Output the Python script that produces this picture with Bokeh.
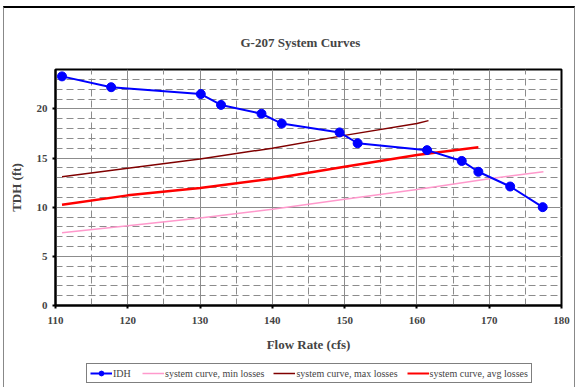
from bokeh.plotting import figure
from bokeh.layouts import column
from bokeh.models import (Range1d, FixedTicker, Legend, LegendItem, Grid)
from bokeh.embed import file_html
from bokeh.resources import INLINE

# ---- data ----
idh_q = [110.9, 117.7, 130.1, 132.9, 138.5, 141.3, 149.3, 151.8, 161.4, 166.2, 168.5, 172.9, 177.4]
idh_h = [23.3, 22.2, 21.5, 20.4, 19.5, 18.5, 17.6, 16.5, 15.8, 14.7, 13.6, 12.1, 10.0]

min_q = [110.9, 120, 130, 140, 150, 160, 170, 177.5]
min_h = [7.4, 8.1, 8.9, 9.8, 10.8, 11.8, 12.9, 13.6]

max_q = [110.9, 120, 130, 140, 150, 160, 161.6]
max_h = [13.1, 13.95, 14.9, 16.0, 17.3, 18.5, 18.8]

avg_q = [110.9, 120, 130, 140, 150, 160, 168.5]
avg_h = [10.25, 11.2, 11.95, 12.9, 14.1, 15.3, 16.1]

x_ticks = [110, 120, 130, 140, 150, 160, 170, 180]
y_ticks = [0, 5, 10, 15, 20]

SERIF = "Liberation Serif"

C_IDH = "#0000ff"
C_MIN = "#ff99cc"
C_MAX = "#800000"
C_AVG = "#ff0000"

p = figure(width=570, height=346, output_backend="svg", toolbar_location=None,
           x_range=Range1d(110, 180), y_range=Range1d(0, 24),
           min_border_left=51, min_border_right=13, min_border_top=61, min_border_bottom=49)

p.title.text = "G-207 System Curves"
p.title.align = "left"
p.title.offset = 185
p.title.text_font = SERIF
p.title.text_font_size = "13px"
p.title.text_font_style = "bold"
p.title.standoff = 40

p.outline_line_color = "black"
p.outline_line_width = 2

# grids: major solid, minor dashed
p.xgrid.grid_line_color = "#8c8c8c"
p.ygrid.grid_line_color = "#8c8c8c"
p.xgrid.ticker = FixedTicker(ticks=x_ticks)
p.ygrid.ticker = FixedTicker(ticks=y_ticks)
p.add_layout(Grid(dimension=0, ticker=FixedTicker(ticks=[115, 125, 135, 145, 155, 165, 175]),
                  grid_line_color="#8c8c8c", grid_line_dash="7 4"))
p.add_layout(Grid(dimension=1, ticker=FixedTicker(ticks=[v for v in range(1, 24) if v % 5 != 0]),
                  grid_line_color="#8c8c8c", grid_line_dash="7 4"))

for ax in (p.xaxis[0], p.yaxis[0]):
    ax.axis_line_width = 2
    ax.axis_line_color = "black"
    ax.major_tick_line_color = "black"
    ax.major_tick_line_width = 2
    ax.major_tick_out = 3
    ax.major_tick_in = 0
    ax.minor_tick_line_color = None
    ax.major_label_text_font = SERIF
    ax.major_label_text_font_size = "11px"
    ax.major_label_text_font_style = "bold"
    ax.axis_label_text_font = SERIF
    ax.axis_label_text_font_size = "13px"
    ax.axis_label_text_font_style = "bold"

p.xaxis.ticker = FixedTicker(ticks=x_ticks)
p.yaxis.ticker = FixedTicker(ticks=y_ticks)
p.xaxis.axis_label = "Flow Rate (cfs)"
p.yaxis.axis_label = "TDH (ft)"
p.xaxis.major_label_standoff = 8
p.xaxis.axis_label_standoff = 10
p.yaxis.major_label_standoff = 5
p.yaxis.axis_label_standoff = 10

p.line(min_q, min_h, line_color=C_MIN, line_width=1.5)
p.line(max_q, max_h, line_color=C_MAX, line_width=1.5)
p.line(avg_q, avg_h, line_color=C_AVG, line_width=2.5)
p.line(idh_q, idh_h, line_color=C_IDH, line_width=2)
p.scatter(idh_q, idh_h, marker="circle", size=9, fill_color=C_IDH, line_color=C_IDH)

# ---- legend strip below the chart (its renderers sit outside the strip's view) ----
lg = figure(width=570, height=34, output_backend="svg", toolbar_location=None,
            x_range=Range1d(0, 1), y_range=Range1d(0, 1),
            min_border_left=0, min_border_right=0, min_border_top=0, min_border_bottom=0)
lg.axis.visible = False
lg.grid.visible = False
lg.outline_line_color = None
off = dict(x=[-5], y=[-5])
l_idh = lg.line(x="x", y="y", source=dict(off), line_color=C_IDH, line_width=2)
c_idh = lg.scatter(x="x", y="y", source=dict(off), marker="circle", size=8, fill_color=C_IDH, line_color=C_IDH)
l_min = lg.line(x="x", y="y", source=dict(off), line_color=C_MIN, line_width=1.5)
l_max = lg.line(x="x", y="y", source=dict(off), line_color=C_MAX, line_width=1.5)
l_avg = lg.line(x="x", y="y", source=dict(off), line_color=C_AVG, line_width=2)

legend = Legend(items=[
    LegendItem(label="IDH", renderers=[l_idh, c_idh]),
    LegendItem(label="system curve, min losses", renderers=[l_min]),
    LegendItem(label="system curve, max losses", renderers=[l_max]),
    LegendItem(label="system curve, avg losses", renderers=[l_avg]),
], orientation="horizontal", location=(31, 5))
legend.label_text_font = SERIF
legend.label_text_font_size = "10px"
legend.label_standoff = 1
legend.glyph_width = 22
legend.glyph_height = 12
legend.spacing = 9
legend.padding = 3
legend.margin = 0
legend.border_line_color = "black"
legend.border_line_width = 1
legend.label_height = 12
legend.background_fill_color = "white"
lg.add_layout(legend)

layout = column(p, lg, spacing=0, margin=(6, 0, 0, 3),
                styles={"border-top": "2px solid black", "border-left": "1px solid #888888",
                        "border-right": "1px solid #888888"})

open("out.html", "w").write(file_html(layout, INLINE))
